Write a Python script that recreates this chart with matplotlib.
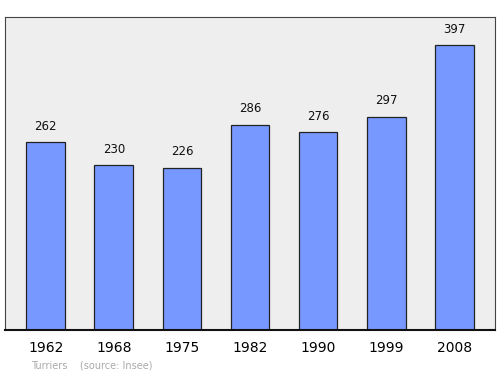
import matplotlib.pyplot as plt

# Population de Turriers
years = ["1962", "1968", "1975", "1982", "1990", "1999", "2008"]
population = [262, 230, 226, 286, 276, 297, 397]

fig = plt.figure(figsize=(5, 3.74), dpi=100)
ax = fig.add_axes([5/500, 1 - 330/374, 490/500, 313/374])
ax.set_facecolor("#eeeeee")

x = range(len(years))
ax.bar(x, population, width=0.57, color="#7799ff", edgecolor="#222222", linewidth=0.9)

for i, v in enumerate(population):
    ax.text(i, v + 13, str(v), ha="center", va="bottom", fontsize=8.5, color="#111111")

ax.set_xlim(-0.6, 6.6)
ax.set_ylim(0, 436)
ax.set_xticks(list(x))
ax.set_xticklabels(years, fontsize=10)
ax.tick_params(axis="x", length=0, pad=8)
ax.set_yticks([])
for side in ["left", "right", "top"]:
    ax.spines[side].set_color("#444444")
    ax.spines[side].set_linewidth(0.8)
ax.spines["bottom"].set_color("#111111")
ax.spines["bottom"].set_linewidth(1.5)

fig.text(31/500, 1 - 365/374, "Turriers    (source: Insee)", fontsize=7, color="#aaaaaa", va="center")

fig.savefig("out.png", dpi=100)
